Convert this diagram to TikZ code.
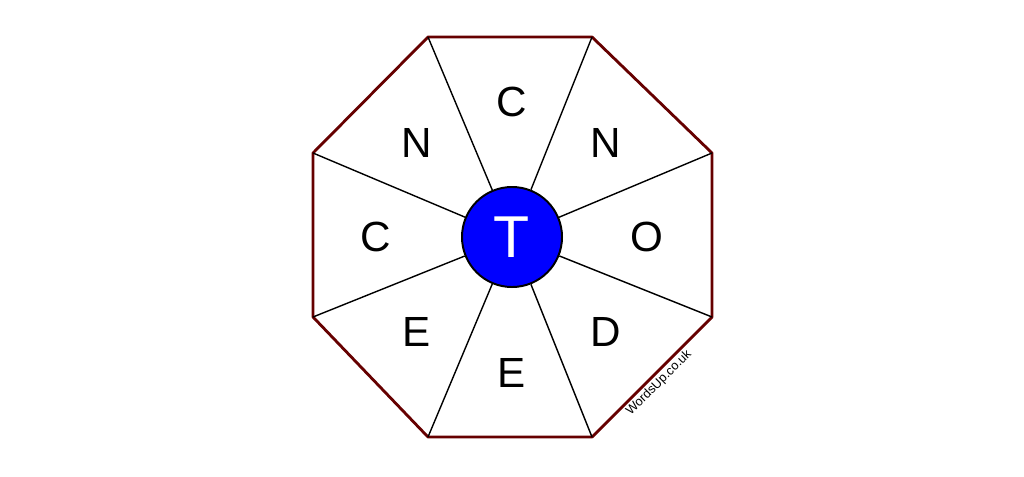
\documentclass[tikz,border=0pt]{standalone}
\usepackage{fontspec}
\setmainfont{Liberation Sans}
\begin{document}
\begin{tikzpicture}[x=0.025cm, y=0.025cm,
    letter/.style={font=\fontsize{30}{30}\selectfont},
    spoke/.style={draw=black, line width=1pt}]
    \useasboundingbox (0,0) rectangle (1024,476);

    % Corners
    \coordinate (v1) at (428,439);
    \coordinate (v2) at (592,439);
    \coordinate (v3) at (712,323);
    \coordinate (v4) at (712,159);
    \coordinate (v5) at (592,39);
    \coordinate (v6) at (428,39);
    \coordinate (v7) at (313,159);
    \coordinate (v8) at (313,323);

    % Octagon
    \draw[draw=red!40!black, line width=2pt, line join=round]
        (v1) -- (v2) -- (v3) -- (v4) -- (v5) -- (v6) -- (v7) -- (v8) -- cycle;

    % Nodes
    \node (hub) [circle, draw, line width=1.4pt, fill=blue, minimum size=2.5cm, inner sep=0pt,
        text=white, font=\fontsize{42}{42}\selectfont] at (512,239) {T};
    \node (top) [letter] at (512,374) {C};
    \node (topright) [letter] at (606,333) {N};
    \node (right) [letter] at (647,239) {O};
    \node (bottomright) [letter] at (606,144) {D};
    \node (bottom) [letter] at (512,103) {E};
    \node (bottomleft) [letter] at (417,144) {E};
    \node (left) [letter] at (376,239) {C};
    \node (topleft) [letter] at (417,333) {N};
    \node (site) [rotate=45, font=\fontsize{9}{9}\selectfont] at (659,93) {WordsUp.co.uk};

    % Spokes
    \foreach \v in {v1,v2,v3,v4,v5,v6,v7,v8}
        \draw[spoke] (\v) -- (hub);
  \end{tikzpicture}
\end{document}
